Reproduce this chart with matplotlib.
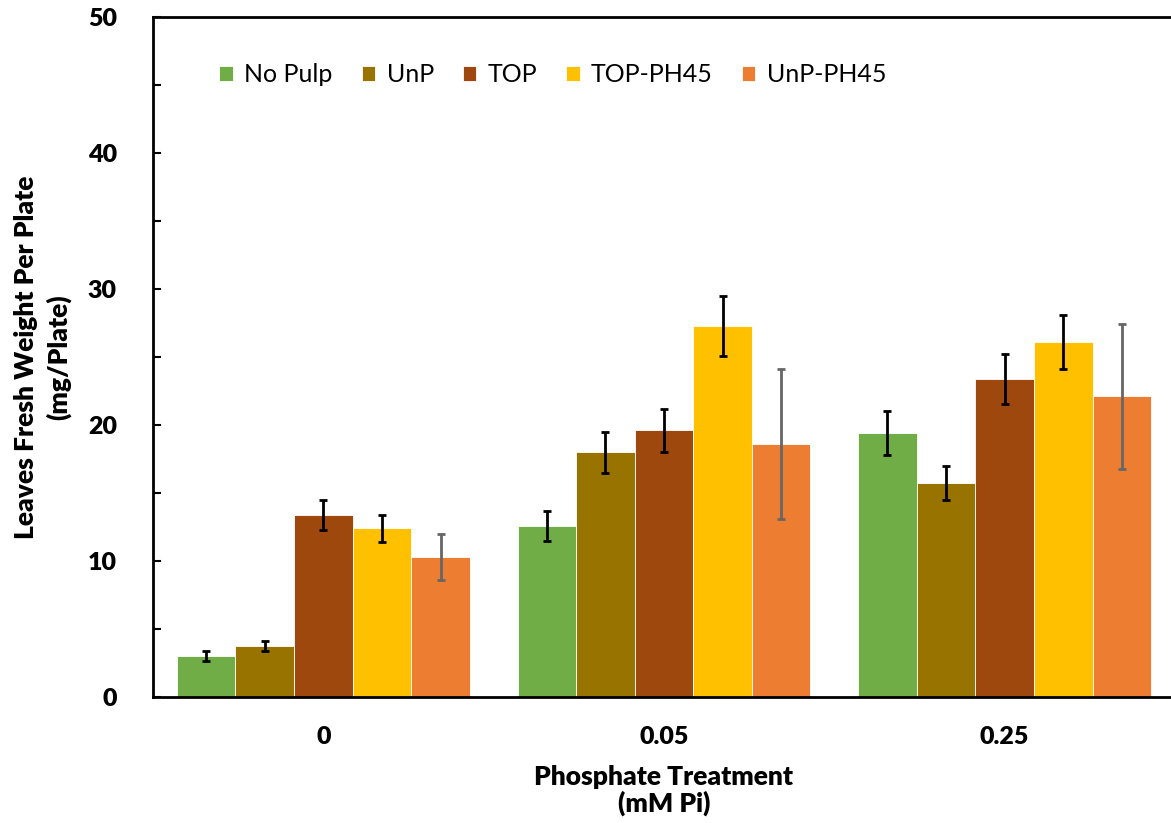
import matplotlib.pyplot as plt
import numpy as np

# --- données ---
treatments = ["0", "0.05", "0.25"]
series = ["No Pulp", "UnP", "TOP", "TOP-PH45", "UnP-PH45"]
colors = ["#70AD47", "#997300", "#9E480E", "#FFC000", "#ED7D31"]
err_colors = ["black", "black", "black", "black", "#666666"]

no_pulp = [3.0, 12.6, 19.4]
unp = [3.75, 18.0, 15.7]
top = [13.4, 19.6, 23.4]
top_ph45 = [12.4, 27.3, 26.1]
unp_ph45 = [10.3, 18.6, 22.1]

no_pulp_err = [0.35, 1.1, 1.6]
unp_err = [0.35, 1.5, 1.25]
top_err = [1.1, 1.6, 1.85]
top_ph45_err = [1.0, 2.2, 2.0]
unp_ph45_err = [1.7, 5.5, 5.3]

values = [no_pulp, unp, top, top_ph45, unp_ph45]
errors = [no_pulp_err, unp_err, top_err, top_ph45_err, unp_ph45_err]

plt.rcParams['font.family'] = ['Lato', 'DejaVu Sans']

fig = plt.figure(figsize=(11.71, 8.23), dpi=100)
ax = fig.add_axes([153 / 1171, 1 - 697 / 823, 1022 / 1171, 680 / 823])

x = np.arange(len(treatments))
width = 0.172
for i, (vals, errs) in enumerate(zip(values, errors)):
    pos = x + (i - 2) * width
    ax.bar(pos, vals, width, color=colors[i], edgecolor="white",
           linewidth=0.6, label=series[i], zorder=2)
    ax.errorbar(pos, vals, yerr=errs, fmt="none", ecolor=err_colors[i],
                elinewidth=2, capsize=3, capthick=2, zorder=3)

ax.set_xlim(-0.5, 2.5)
ax.set_ylim(0, 50)
ax.set_yticks(np.arange(0, 51, 10))
ax.set_yticks(np.arange(0, 51, 5), minor=True)
ax.set_xticks(x)
ax.set_xticklabels(treatments)

ax.tick_params(axis="y", which="both", direction="in", length=6, width=1.5,
               pad=26, labelsize=18)
ax.tick_params(axis="x", length=0, pad=21, labelsize=18)
for lab in ax.get_xticklabels() + ax.get_yticklabels():
    lab.set_fontweight("heavy")

for side in ["left", "bottom", "top"]:
    ax.spines[side].set_linewidth(2)
ax.spines["right"].set_visible(False)

ax.set_xlabel("Phosphate Treatment\n(mM Pi)", fontsize=19, fontweight="heavy",
              labelpad=12, linespacing=1.08)
ax.set_ylabel("Leaves Fresh Weight Per Plate\n(mg/Plate)", fontsize=19,
              fontweight="heavy", labelpad=12, linespacing=1.35)

ax.legend(loc="upper left", bbox_to_anchor=(0.043, 0.965), ncol=5, frameon=False,
          fontsize=18, handlelength=0.55, handleheight=0.55, columnspacing=1.15,
          handletextpad=0.45)

fig.savefig("out.png", dpi=100)
